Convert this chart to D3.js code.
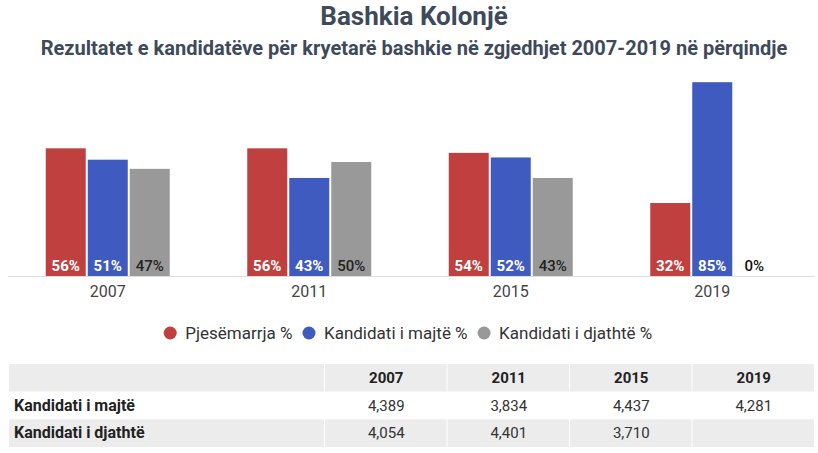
<!DOCTYPE html>
<html>
<head>
<meta charset="utf-8">
<script src="https://cdn.jsdelivr.net/npm/d3@7"></script>
<style>
  body { margin: 0; background: #fff; font-family: Roboto, "Noto Sans", sans-serif; }
</style>
</head>
<body>
<div id="chart"></div>
<script>
// Data
const years = ["2007", "2011", "2015", "2019"];
const seriesNames = ["Pjesëmarrja %", "Kandidati i majtë %", "Kandidati i djathtë %"];
const turnout = [56, 56, 54, 32];
const leftPct = [51, 43, 52, 85];
const rightPct = [47, 50, 43, 0];
const tableRows = ["Kandidati i majtë", "Kandidati i djathtë"];
const leftVotes = [4389, 3834, 4437, 4281];
const rightVotes = [4054, 4401, 3710, null];

const colors = ["#c0403f", "#3f5bbf", "#999999"];
const labelColors = ["#fff", "#fff", "#222"];

const W = 818, H = 453;
const svg = d3.select("#chart").append("svg")
  .attr("width", W).attr("height", H);

// Titles
svg.append("text")
  .attr("x", 414).attr("y", 25)
  .attr("text-anchor", "middle")
  .style("font-size", "26px").style("font-weight", "bold")
  .attr("fill", "#3e4a5a")
  .text("Bashkia Kolonjë");

svg.append("text")
  .attr("x", 414).attr("y", 55)
  .attr("text-anchor", "middle")
  .style("font-size", "20px").style("font-weight", "bold")
  .attr("fill", "#3e4a5a")
  .text("Rezultatet e kandidatëve për kryetarë bashkie në zgjedhjet 2007-2019 në përqindje");

// Scales
const x0 = d3.scaleBand().domain(years).range([7, 813]).padding(0);
const groupW = 124;
const x1 = d3.scaleBand().domain(seriesNames).range([0, groupW]).paddingInner(0.0476);
const y = d3.scaleLinear().domain([0, 100]).range([276, 48]);
const color = d3.scaleOrdinal().domain(seriesNames).range(colors);

const rows = years.map((yr, i) => ({
  year: yr,
  values: [turnout[i], leftPct[i], rightPct[i]]
}));

// baseline
svg.append("line")
  .attr("x1", 8).attr("x2", 815)
  .attr("y1", y(0) + 0.5).attr("y2", y(0) + 0.5)
  .attr("stroke", "#dcdcdc");

const groups = svg.selectAll("g.group")
  .data(rows)
  .join("g")
  .attr("class", "group")
  .attr("transform", d => `translate(${x0(d.year) + (x0.bandwidth() - groupW) / 2},0)`);

groups.selectAll("rect")
  .data(d => d.values.map((v, j) => ({ key: seriesNames[j], value: v, j })))
  .join("rect")
  .attr("x", d => x1(d.key))
  .attr("y", d => y(d.value))
  .attr("width", x1.bandwidth())
  .attr("height", d => y(0) - y(d.value))
  .attr("fill", d => color(d.key));

groups.selectAll("text.val")
  .data(d => d.values.map((v, j) => ({ key: seriesNames[j], value: v, j })))
  .join("text")
  .attr("class", "val")
  .attr("x", d => x1(d.key) + x1.bandwidth() / 2)
  .attr("y", y(0) - 5)
  .attr("text-anchor", "middle")
  .style("font-size", "15px")
  .style("font-weight", d => d.j === 2 ? "500" : "bold")
  .attr("fill", d => d.value === 0 ? "#111" : labelColors[d.j])
  .text(d => d.value + "%");

// x axis labels
svg.selectAll("text.year")
  .data(years)
  .join("text")
  .attr("class", "year")
  .attr("x", d => x0(d) + x0.bandwidth() / 2)
  .attr("y", 297)
  .attr("text-anchor", "middle")
  .style("font-size", "16px")
  .attr("fill", "#444")
  .text(d => d);

// Legend
const legend = svg.append("g").attr("transform", "translate(0,333)");
const items = legend.selectAll("g")
  .data(seriesNames)
  .join("g");
items.append("circle").attr("r", 6.5).attr("cy", 0).attr("fill", color);
items.append("text")
  .attr("x", 15).attr("y", 6)
  .style("font-size", "17px")
  .attr("fill", "#333")
  .text(d => d);
let lx = 0;
const widths = [];
items.each(function () {
  widths.push(this.getBBox().width);
});
const gap = 10;
const total = d3.sum(widths) + gap * (widths.length - 1);
lx = 408 - total / 2 + 6.5;
items.attr("transform", (d, i) => {
  const t = `translate(${lx},0)`;
  lx += widths[i] + gap;
  return t;
});

// Table
const colScale = d3.scaleBand().domain(years).range([325, 815]);
const rowScale = d3.scaleBand().domain(["header", ...tableRows]).range([364, 447]);
const tableData = [
  { name: tableRows[0], values: leftVotes },
  { name: tableRows[1], values: rightVotes }
];
const fmt = d3.format(",");
const rowBg = { header: "#ececec", [tableRows[0]]: "#ffffff", [tableRows[1]]: "#ececec" };

const table = svg.append("g");
["header", ...tableRows].forEach(r => {
  table.append("rect")
    .attr("x", 9).attr("y", rowScale(r))
    .attr("width", 325 - 9 - 1).attr("height", rowScale.bandwidth())
    .attr("fill", rowBg[r]);
  years.forEach(yr => {
    table.append("rect")
      .attr("x", colScale(yr)).attr("y", rowScale(r))
      .attr("width", colScale.bandwidth() - 1).attr("height", rowScale.bandwidth())
      .attr("fill", rowBg[r]);
  });
});

table.selectAll("text.head")
  .data(years)
  .join("text")
  .attr("class", "head")
  .attr("x", d => colScale(d) + colScale.bandwidth() / 2)
  .attr("y", rowScale("header") + rowScale.bandwidth() / 2 + 5)
  .attr("text-anchor", "middle")
  .style("font-size", "15px").style("font-weight", "bold")
  .attr("fill", "#222")
  .text(d => d);

tableData.forEach(row => {
  const cy = rowScale(row.name) + rowScale.bandwidth() / 2 + 5;
  table.append("text")
    .attr("x", 14).attr("y", cy)
    .style("font-size", "16px").style("font-weight", "bold")
    .attr("fill", "#222")
    .text(row.name);
  row.values.forEach((v, i) => {
    if (v == null) return;
    table.append("text")
      .attr("x", colScale(years[i]) + colScale.bandwidth() / 2)
      .attr("y", cy)
      .attr("text-anchor", "middle")
      .style("font-size", "15px")
      .attr("fill", "#333")
      .text(fmt(v));
  });
});
</script>
</body>
</html>
